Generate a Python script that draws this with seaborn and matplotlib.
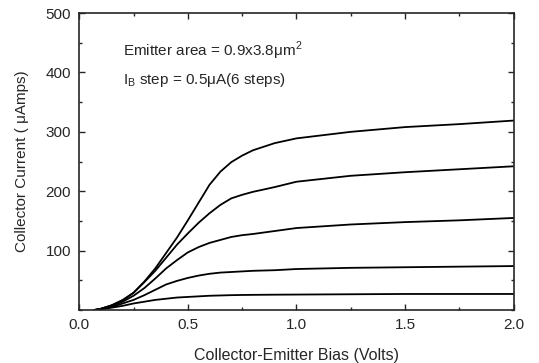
import seaborn as sns
import pandas as pd
import matplotlib.pyplot as plt
from matplotlib.ticker import MultipleLocator, FixedLocator

# bias points (Volts)
vce = [0.07, 0.1, 0.15, 0.2, 0.25, 0.3, 0.35, 0.4, 0.45, 0.5, 0.55,
       0.6, 0.65, 0.7, 0.75, 0.8, 0.9, 1.0, 1.25, 1.5, 1.75, 2.0]

# collector current (uA) for each base current step
ic_1 = [0, 1, 4, 7, 11, 14, 17, 19, 21, 22, 23, 24, 24.5, 25, 25.3, 25.5, 25.8, 26, 26.5, 27, 27, 27]
ic_2 = [0, 2, 5, 11, 17, 25, 34, 43, 49, 54, 58, 61, 63, 64, 65, 66, 67, 69, 71, 72, 73, 74]
ic_3 = [0, 2, 7, 14, 24, 37, 53, 70, 84, 97, 106, 113, 118, 123, 126, 128, 133, 138, 144, 148, 151, 155]
ic_4 = [0, 2, 8, 17, 29, 47, 66, 88, 110, 129, 147, 163, 177, 188, 194, 199, 207, 216, 226, 232, 237, 242]
ic_5 = [0, 2, 8, 16, 29, 48, 70, 96, 122, 151, 181, 211, 233, 249, 260, 269, 281, 289, 300, 308, 313, 319]

steps = ['1', '2', '3', '4', '5']

df = pd.DataFrame({
    'Vce': vce * 5,
    'Ic': ic_1 + ic_2 + ic_3 + ic_4 + ic_5,
    'step': sum([[s] * len(vce) for s in steps], []),
})

sns.set_style('ticks')
plt.rcParams['font.family'] = ['Liberation Sans', 'DejaVu Sans']

fig = plt.figure(figsize=(5.39, 3.63), dpi=100)
ax = fig.add_axes([0.147, 0.146, 0.806, 0.818])

sns.lineplot(data=df, x='Vce', y='Ic', hue='step', palette=['black'] * 5,
             linewidth=1.3, legend=False, ax=ax)

ax.set_xlim(0, 2.0)
ax.set_ylim(0, 500)
ax.xaxis.set_major_locator(MultipleLocator(0.5))
ax.xaxis.set_minor_locator(MultipleLocator(0.25))
ax.yaxis.set_major_locator(FixedLocator([100, 200, 300, 400, 500]))
ax.yaxis.set_minor_locator(MultipleLocator(50))
ax.tick_params(which='both', direction='in', top=True, right=True, labelsize=11)
ax.tick_params(which='major', length=4, width=1, pad=6)
ax.tick_params(which='minor', length=2.5, width=1)
for s in ax.spines.values():
    s.set_linewidth(1.2)
    s.set_visible(True)
ax.xaxis.set_major_formatter(plt.FuncFormatter(lambda v, p: f'{v:.1f}'))

ax.set_xlabel('Collector-Emitter Bias (Volts)', fontsize=11.5, labelpad=11)
ax.set_ylabel('Collector Current ( μAmps)', fontsize=11, labelpad=12)

ax.text(0.2, 437, 'Emitter area = 0.9x3.8μm$^\\mathregular{2}$', fontsize=11, va='center')
ax.text(0.2, 387, '$\\mathregular{I_B}$ step = 0.5μA(6 steps)', fontsize=11, va='center')

plt.savefig('out.png', dpi=100)
